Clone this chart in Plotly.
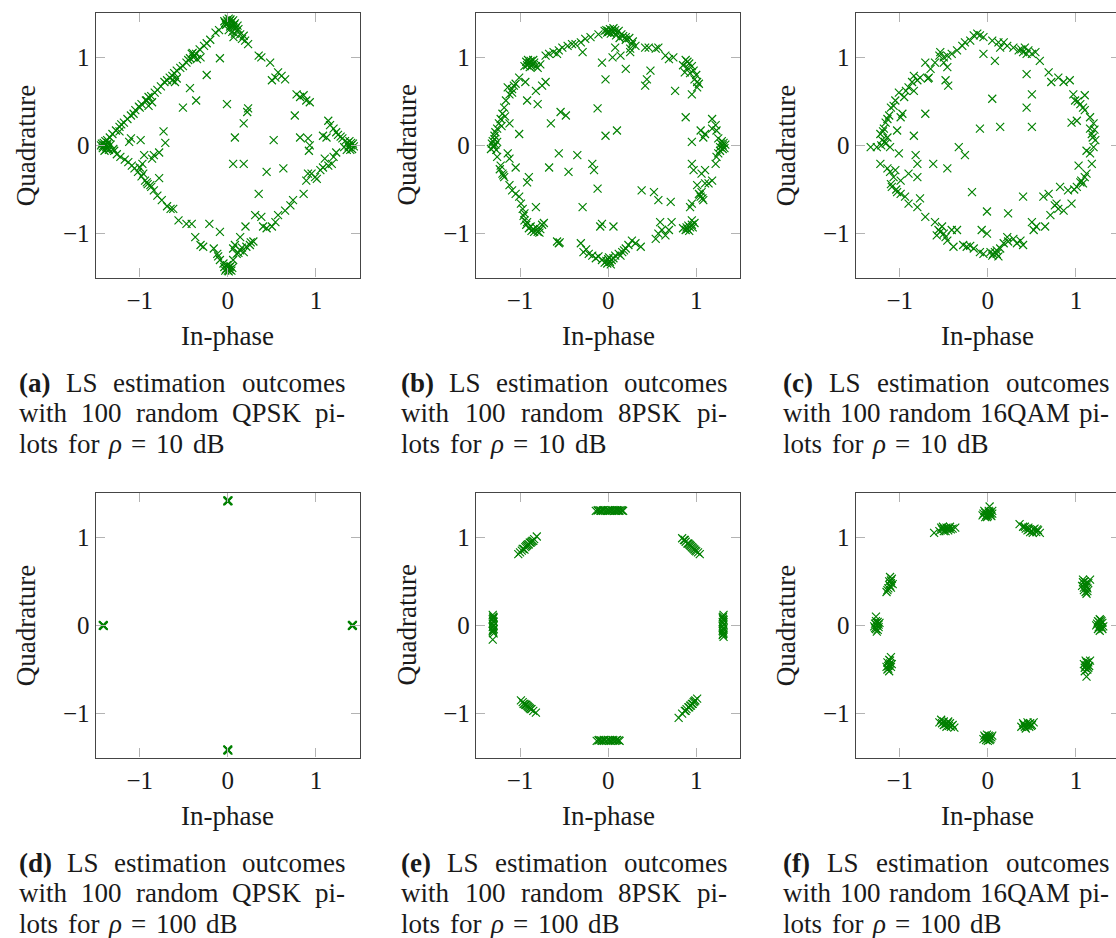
import plotly.graph_objects as go

# ---------------------------------------------------------------------------
# LS channel estimates (in-phase, quadrature) for each pilot scheme / SNR
# ---------------------------------------------------------------------------
qpsk_10db = [
    (-0.04, 1.41), (-0.01, 1.42), (0.02, 1.415), (0.045, 1.40), (0.08, 1.385), (-0.02, 1.37),
    (0.026, 1.35), (0.064, 1.34), (0.11, 1.36), (0.01, 1.31), (0.05, 1.29), (0.10, 1.30),
    (0.14, 1.26), (0.18, 1.245), (0.064, 1.23), (0.16, 1.21), (0.23, 1.15), (0.196, 1.19),
    (0.0, 1.40), (0.03, 1.38), (-0.03, 1.39), (0.06, 1.42), (0.01, 1.44), (0.04, 1.36),
    (0.07, 1.37), (0.09, 1.33), (-0.01, 1.38), (0.03, 1.43), (0.12, 1.32), (0.08, 1.27),
    (-0.10, 1.31), (-0.14, 1.28), (-0.20, 1.20), (-0.24, 1.16), (-0.27, 1.13), (-0.32, 1.09),
    (-0.36, 1.04), (-0.38, 1.02), (-0.40, 1.05), (-0.43, 0.99), (-0.45, 0.97), (-0.47, 0.94),
    (-0.51, 0.90), (-0.54, 0.88), (-0.58, 0.85), (-0.61, 0.82), (-0.63, 0.79), (-0.66, 0.77),
    (-0.69, 0.74), (-0.72, 0.72), (-0.76, 0.67), (-0.80, 0.63), (-0.83, 0.60), (-0.87, 0.56),
    (-0.90, 0.55), (-0.93, 0.51), (-0.98, 0.47), (-1.01, 0.44), (-1.05, 0.40), (-1.07, 0.36),
    (-1.10, 0.34), (-1.14, 0.30), (-1.18, 0.26), (-1.21, 0.24), (-1.23, 0.21), (-1.27, 0.17),
    (-1.31, 0.13), (-1.34, 0.09), (-1.37, 0.06),
    (-0.58, 0.76), (-0.63, 0.74), (-0.60, 0.72), (-0.41, 1.04), (-0.39, 1.00), (-0.35, 0.98),
    (-0.31, 1.00), (-0.92, 0.51), (-0.86, 0.49), (-0.90, 0.45), (-1.00, 0.43),
    (-0.09, 0.99), (-0.24, 0.80), (-0.43, 0.65), (-0.36, 0.51), (-0.51, 0.43), (-0.73, 0.16),
    (-0.71, 0.03), (-0.99, 0.06), (-1.12, 0.04), (-1.23, 0.16), (-1.10, 0.08),
    (-1.43, 0.02), (-1.40, 0.00), (-1.38, -0.02), (-1.42, -0.03), (-1.36, 0.03), (-1.39, 0.05),
    (-1.35, -0.05), (-1.33, 0.01), (-1.40, -0.06), (-1.30, -0.04), (-1.44, 0.00), (-1.37, 0.00),
    (-1.41, 0.03), (-1.38, -0.04), (-1.39, 0.01), (-1.42, -0.01), (-1.36, -0.03),
    (-1.29, -0.06), (-1.26, -0.10), (-1.22, -0.13), (-1.17, -0.16), (-1.13, -0.19), (-1.09, -0.23),
    (-1.06, -0.26), (-1.02, -0.30), (-0.98, -0.35), (-0.94, -0.40), (-0.91, -0.44), (-0.87, -0.47),
    (-0.84, -0.51), (-0.80, -0.57), (-0.75, -0.62), (-0.69, -0.69), (-0.65, -0.72), (-0.56, -0.85),
    (-0.47, -0.89), (-1.00, -0.25), (-0.96, -0.32), (-0.92, -0.42), (-0.88, -0.45),
    (-0.95, -0.11), (-0.84, -0.11), (-0.78, -0.08), (-0.86, -0.15), (-0.97, -0.21), (-0.78, -0.37),
    (-0.62, -0.72), (-0.41, -0.89), (-0.21, -0.89), (-0.09, -0.98), (-0.37, -1.04), (-0.31, -1.13),
    (-0.28, -1.15), (-0.16, -1.17), (-0.12, -1.23), (-0.11, -1.26), (-0.09, -1.30), (-0.05, -1.34),
    (-0.02, -1.40), (0.00, -1.42), (0.02, -1.41), (-0.04, -1.38), (0.03, -1.37), (0.01, -1.43),
    (-0.01, -1.36), (0.05, -1.39), (0.02, -1.38), (-0.03, -1.42), (0.00, -1.39), (0.04, -1.42),
    (0.06, -1.30), (0.10, -1.23), (0.14, -1.19), (0.18, -1.21), (0.21, -1.15), (0.25, -1.13),
    (0.29, -1.09), (0.20, -0.92), (0.14, -1.04), (0.06, -1.17), (0.08, -1.13), (0.31, -0.79),
    (0.38, -0.81), (0.40, -0.92), (0.44, -0.94), (0.50, -0.92), (0.54, -0.87), (0.57, -0.79),
    (0.65, -0.74), (0.71, -0.68), (0.74, -0.62), (0.86, -0.55), (0.89, -0.40), (0.99, -0.36),
    (1.01, -0.38), (1.05, -0.28), (1.08, -0.25), (1.14, -0.23), (1.18, -0.21), (1.10, -0.15),
    (1.20, -0.13), (1.23, -0.08), (0.12, -1.22), (0.16, -1.16), (0.26, -1.10),
    (0.06, -0.21), (0.18, -0.21), (0.35, -0.55), (0.44, -0.30), (0.63, -0.26), (0.52, 0.06),
    (0.08, 0.09), (-0.01, 0.47), (0.18, 0.25), (0.22, 0.38), (0.23, 0.42), (0.76, 0.34),
    (0.82, 0.09), (0.91, 0.08), (0.92, -0.06), (0.93, 0.00), (0.91, -0.32), (0.95, -0.32),
    (1.40, 0.00), (1.42, 0.02), (1.38, -0.02), (1.36, 0.03), (1.41, -0.04), (1.33, 0.05),
    (1.35, -0.05), (1.30, 0.08), (1.28, 0.10), (1.25, 0.12), (1.43, -0.01), (1.38, 0.05),
    (1.39, -0.05), (1.32, -0.02), (1.40, 0.03), (1.37, -0.01),
    (1.12, 0.09), (1.14, 0.28), (1.16, 0.23), (1.20, 0.19), (1.23, 0.15), (1.08, 0.11),
    (0.89, 0.51), (0.86, 0.57), (0.78, 0.58), (0.82, 0.55), (0.93, 0.49), (0.65, 0.75),
    (0.61, 0.79), (0.57, 0.83), (0.50, 0.74), (0.54, 0.77), (0.48, 0.94), (0.35, 1.02),
    (0.38, 1.00),
]

psk8_10db = [
    (0.00, 1.30), (0.02, 1.32), (0.05, 1.29), (0.08, 1.31), (-0.02, 1.31), (0.10, 1.28),
    (0.03, 1.27), (0.06, 1.33), (-0.04, 1.30), (0.12, 1.30), (0.15, 1.26), (0.13, 1.22),
    (0.20, 1.20), (0.24, 1.22), (0.27, 1.15), (0.25, 1.10), (0.28, 1.18), (0.01, 1.29),
    (0.04, 1.31), (-0.01, 1.28), (0.07, 1.28), (0.09, 1.25), (0.17, 1.24),
    (0.31, 1.13), (0.25, 1.06), (0.14, 1.02), (0.05, 1.00), (-0.07, 0.94), (-0.03, 0.75),
    (0.20, 0.87), (0.08, 1.11), (0.20, 1.23),
    (-0.11, 1.26), (-0.20, 1.23), (-0.26, 1.21), (-0.31, 1.17), (-0.37, 1.15), (-0.41, 1.15),
    (-0.46, 1.13), (-0.52, 1.11), (-0.56, 1.08), (-0.62, 1.06), (-0.67, 1.04), (-0.71, 1.02),
    (-0.29, 1.06), (-0.58, 1.04),
    (-0.93, 0.95), (-0.90, 0.93), (-0.88, 0.96), (-0.92, 0.91), (-0.86, 0.92), (-0.84, 0.94),
    (-0.95, 0.90), (-0.89, 0.89), (-0.82, 0.90), (-0.80, 0.88), (-0.77, 0.92), (-0.91, 0.97),
    (-0.87, 0.90), (-0.89, 0.94), (-0.85, 0.97),
    (-1.01, 0.77), (-1.05, 0.70), (-1.09, 0.64), (-1.12, 0.58), (-1.16, 0.51), (-1.18, 0.43),
    (-1.20, 0.36), (-1.22, 0.30), (-1.24, 0.25), (-1.26, 0.19), (-1.28, 0.15), (-1.29, 0.11),
    (-1.14, 0.66), (-1.09, 0.60), (-1.12, 0.25), (-1.01, 0.13), (-0.94, 0.72), (-0.92, 0.51),
    (-0.82, 0.62), (-0.80, 0.47), (-0.71, 0.72), (-0.75, 0.68), (-1.07, 0.68), (-1.17, 0.33),
    (-1.21, 0.22),
    (-1.32, 0.02), (-1.30, -0.02), (-1.28, 0.01), (-1.33, -0.04), (-1.31, 0.05), (-1.27, -0.05),
    (-1.29, 0.07), (-1.26, 0.04), (-1.30, 0.00),
    (-1.26, -0.13), (-1.22, -0.23), (-1.20, -0.32), (-1.18, -0.36), (-1.14, -0.09), (-1.12, -0.15),
    (-1.05, -0.25), (-1.12, -0.45), (-1.09, -0.51), (-1.05, -0.55), (-1.01, -0.58), (-0.99, -0.66),
    (-0.97, -0.72), (-0.95, -0.77), (-0.90, -0.36), (-0.92, -0.42), (-0.82, -0.70), (-1.23, -0.27),
    (-1.19, -0.34),
    (-0.95, -0.85), (-0.93, -0.90), (-0.90, -0.94), (-0.87, -0.97), (-0.85, -0.95), (-0.82, -0.93),
    (-0.88, -0.92), (-0.80, -0.98), (-0.77, -0.95), (-0.75, -0.90), (-0.73, -0.88), (-0.78, -0.99),
    (-0.96, -0.80), (-0.92, -0.87), (-0.84, -0.98),
    (-0.58, -1.09), (-0.56, -1.11), (-0.31, -1.11), (-0.28, -1.21), (-0.22, -1.23), (-0.18, -1.25),
    (-0.14, -1.28), (-0.11, -1.26), (-0.07, -1.30), (-0.25, -1.18), (-0.55, -1.10),
    (-0.02, -1.31), (0.00, -1.29), (0.02, -1.32), (0.04, -1.30), (-0.04, -1.33), (0.01, -1.27),
    (0.06, -1.28), (-0.01, -1.34), (0.03, -1.35),
    (0.08, -1.25), (0.12, -1.23), (0.16, -1.21), (0.20, -1.17), (0.23, -1.13), (0.27, -1.08),
    (0.31, -1.11), (0.37, -1.15), (-0.07, -0.89), (-0.09, -0.92), (0.06, -0.92), (0.54, -1.06),
    (0.57, -1.00), (0.61, -0.96), (0.65, -1.02), (0.69, -0.96), (0.59, -0.87), (0.72, -0.87),
    (0.18, -1.19), (0.14, -1.25),
    (0.90, -0.95), (0.93, -0.93), (0.95, -0.90), (0.88, -0.96), (0.85, -0.94), (0.92, -0.97),
    (0.96, -0.93), (0.98, -0.88), (0.95, -0.85), (0.91, -0.91), (0.89, -0.93),
    (0.93, -0.70), (0.95, -0.66), (1.03, -0.55), (1.05, -0.58), (1.06, -0.53), (1.08, -0.62),
    (1.10, -0.43), (1.14, -0.43), (1.18, -0.40), (1.01, -0.45), (0.95, -0.21), (0.97, -0.28),
    (1.06, -0.32), (1.10, -0.28), (1.22, -0.21), (1.23, -0.13), (1.25, -0.09), (1.27, -0.06),
    (1.04, -0.56), (1.07, -0.60),
    (1.28, 0.02), (1.30, 0.00), (1.32, -0.03), (1.29, 0.05), (1.27, -0.02), (1.31, 0.03),
    (1.25, 0.08), (1.33, 0.01), (1.30, -0.04),
    (1.18, 0.30), (1.22, 0.23), (1.23, 0.17), (1.18, 0.19), (1.10, 0.13), (1.05, 0.17),
    (1.08, 0.09), (0.95, 0.04), (0.88, 0.32), (0.95, 0.58), (1.01, 0.66), (1.03, 0.70),
    (0.88, 0.97), (0.92, 0.93), (0.95, 0.90), (0.90, 0.88), (0.85, 0.91), (0.97, 0.85),
    (1.00, 0.80), (0.93, 0.82), (0.98, 0.75), (0.87, 0.83), (1.01, 0.72), (0.90, 0.95),
    (0.65, 1.02), (0.57, 1.11), (0.54, 1.10), (0.46, 1.11), (0.42, 1.11), (0.69, 0.98),
    (0.74, 1.00), (0.48, 0.85), (0.44, 0.75), (0.42, 0.68), (0.76, 0.62),
    (-0.12, 0.42), (-0.03, 0.11), (0.10, 0.17), (-0.54, 0.38), (-0.48, 0.34), (-0.65, 0.25),
    (-0.56, -0.09), (-0.35, -0.11), (-0.67, -0.25), (-0.45, -0.30), (-0.18, -0.21), (-0.16, -0.28),
    (-0.12, -0.49), (-0.29, -0.70), (0.38, -0.51), (0.52, -0.53), (0.57, -0.62), (0.71, -0.64),
]

qam16_10db = [
    (-0.16, 1.25), (-0.09, 1.25), (-0.05, 1.23), (0.05, 1.19), (0.12, 1.17), (0.18, 1.17),
    (0.14, 1.11), (0.22, 1.13), (0.29, 1.11), (0.35, 1.08), (0.38, 1.09), (0.42, 1.11),
    (0.46, 1.08), (0.50, 1.04), (0.54, 1.06), (0.59, 0.96), (-0.05, 1.04), (0.08, 0.96),
    (-0.12, 1.27), (0.40, 1.06), (0.44, 1.04), (-0.20, 1.19),
    (-0.26, 1.17), (-0.29, 1.13), (-0.35, 1.08), (-0.41, 1.04), (-0.46, 1.02), (-0.50, 1.00),
    (-0.54, 1.06), (-0.50, 0.94), (-0.46, 0.89), (-0.60, 0.94), (-0.65, 0.87), (-0.71, 0.94),
    (-0.67, 0.77), (-0.77, 0.77), (-0.80, 0.74), (-0.86, 0.72), (-0.84, 0.79), (-0.90, 0.66),
    (-0.84, 0.62), (-0.95, 0.55), (-1.01, 0.60), (-1.05, 0.51), (-1.10, 0.43), (-1.14, 0.30),
    (-1.16, 0.26), (-0.97, 0.36), (-0.99, 0.32), (-0.48, 0.74), (-0.45, 0.68), (-0.71, 0.36),
    (-0.55, 1.02), (-0.68, 0.76), (-0.93, 0.62), (-1.07, 0.45), (-1.12, 0.34),
    (-1.18, 0.19), (-1.22, 0.13), (-1.14, 0.09), (-1.20, 0.06), (-1.16, 0.02), (-1.33, -0.02),
    (-1.26, -0.02), (-1.11, -0.02), (-1.03, 0.17), (-1.01, -0.09), (-0.84, 0.11), (-0.82, -0.11),
    (-0.80, -0.21), (-1.19, 0.16), (-1.17, 0.04), (-1.21, 0.00),
    (-1.22, -0.21), (-1.14, -0.26), (-1.11, -0.30), (-1.05, -0.28), (-1.07, -0.36), (-0.99, -0.40),
    (-0.90, -0.32), (-1.09, -0.47), (-1.03, -0.53), (-0.99, -0.55), (-0.94, -0.58), (-0.90, -0.66),
    (-0.80, -0.70), (-0.77, -0.60), (-0.71, -0.81), (-0.80, -0.36), (-1.10, -0.44), (-1.04, -0.50),
    (-0.60, -0.87), (-0.56, -0.96), (-0.50, -1.00), (-0.58, -1.02), (-0.46, -1.08), (-0.41, -0.96),
    (-0.39, -1.15), (-0.35, -0.96), (-0.52, -0.92), (-0.54, -0.98), (-0.48, -1.04),
    (-0.28, -1.13), (-0.24, -1.15), (-0.16, -1.17), (-0.09, -1.21), (-0.05, -1.23), (0.03, -1.21),
    (0.06, -1.23), (0.10, -1.19), (0.14, -1.17), (0.18, -1.11), (0.23, -1.09), (0.29, -1.06),
    (0.33, -1.11), (0.37, -1.08), (0.40, -1.13), (-0.07, -0.96), (-0.01, -1.00), (-0.01, -0.75),
    (0.23, -0.77), (0.22, -1.04), (0.10, -1.23), (0.05, -1.25), (0.12, -1.26), (0.08, -1.21),
    (-0.20, -1.14),
    (0.50, -0.87), (0.52, -0.96), (0.55, -0.92), (0.65, -0.92), (0.71, -0.79), (0.76, -0.68),
    (0.80, -0.72), (0.86, -0.74), (0.95, -0.66), (0.69, -0.55), (0.82, -0.47), (0.91, -0.51),
    (1.01, -0.47), (1.06, -0.40), (1.12, -0.32), (1.18, -0.21), (1.03, -0.23), (1.05, -0.42),
    (1.08, -0.43), (0.40, -0.58), (0.63, -0.58), (0.78, -0.66), (1.10, -0.36), (0.98, -0.50),
    (1.16, -0.09), (1.20, -0.02), (1.22, 0.06), (1.18, 0.13), (1.16, 0.19), (1.20, 0.25),
    (1.16, 0.32), (1.10, 0.40), (1.01, 0.28), (0.95, 0.26), (1.12, -0.06), (1.19, 0.09),
    (1.21, 0.18),
    (1.05, 0.47), (1.08, 0.43), (0.99, 0.51), (0.97, 0.58), (1.10, 0.57), (0.86, 0.72),
    (0.80, 0.77), (0.72, 0.72), (0.69, 0.83), (0.93, 0.74), (1.02, 0.50),
    (0.05, 0.53), (0.44, 0.43), (0.50, 0.58), (0.44, 0.81), (0.14, 0.21), (-0.09, 0.19),
    (0.50, 0.21), (-0.33, -0.02), (-0.26, -0.11), (-0.62, -0.21), (-0.46, -0.26), (-0.18, -0.53),
]

qpsk_100db = [
    (0.0, 1.414), (0.005, 1.41), (-0.005, 1.418), (0.003, 1.42), (-0.006, 1.408), (0.007, 1.416),
    (0.0, -1.414), (0.004, -1.41), (-0.004, -1.418), (-0.003, -1.408), (0.006, -1.42), (-0.007, -1.412),
    (1.414, 0.0), (1.41, 0.005), (1.418, -0.004), (1.412, -0.006), (1.42, 0.006), (1.407, -0.002),
    (-1.414, 0.0), (-1.41, 0.004), (-1.418, -0.005), (-1.416, 0.006), (-1.408, -0.006), (-1.42, 0.001),
]

psk8_100db = [
    (-0.14, 1.30), (-0.11, 1.31), (-0.08, 1.30), (-0.05, 1.31), (-0.03, 1.30), (0.00, 1.31),
    (0.02, 1.30), (0.05, 1.31), (0.07, 1.30), (0.10, 1.31), (0.12, 1.30), (0.15, 1.31),
    (0.17, 1.30), (-0.12, 1.305), (-0.06, 1.305), (0.01, 1.305), (0.08, 1.305), (0.13, 1.305),
    (-0.09, 1.305), (-0.01, 1.30), (0.04, 1.305), (0.11, 1.305), (0.16, 1.305),
    (-0.13, -1.31), (-0.10, -1.30), (-0.07, -1.31), (-0.05, -1.30), (-0.02, -1.31), (0.00, -1.30),
    (0.03, -1.31), (0.05, -1.30), (0.08, -1.31), (0.10, -1.30), (0.13, -1.31), (-0.11, -1.305),
    (-0.04, -1.305), (0.02, -1.305), (0.09, -1.305), (-0.08, -1.305), (0.06, -1.305),
    (0.12, -1.305),
    (-1.31, 0.12), (-1.30, 0.09), (-1.31, 0.07), (-1.30, 0.04), (-1.31, 0.02), (-1.30, 0.00),
    (-1.31, -0.02), (-1.30, -0.04), (-1.31, -0.06), (-1.30, -0.09), (-1.31, -0.16), (-1.305, 0.10),
    (-1.305, 0.05), (-1.305, -0.01), (-1.305, -0.05), (-1.305, 0.08), (-1.305, -0.07),
    (1.31, 0.12), (1.30, 0.09), (1.31, 0.06), (1.30, 0.04), (1.31, 0.01), (1.30, -0.01),
    (1.31, -0.03), (1.30, -0.06), (1.31, -0.09), (1.30, -0.11), (1.31, -0.13), (1.305, 0.10),
    (1.305, 0.03), (1.305, -0.04), (1.305, -0.10), (1.305, 0.07), (1.305, -0.07),
    (-1.02, 0.81), (-1.00, 0.83), (-0.98, 0.85), (-0.96, 0.87), (-0.94, 0.89), (-0.92, 0.91),
    (-0.90, 0.92), (-0.88, 0.94), (-0.86, 0.96), (-0.84, 0.98), (-0.81, 1.01), (-0.97, 0.87),
    (-0.93, 0.90), (-0.89, 0.94), (-0.85, 0.96), (-0.95, 0.86), (-0.91, 0.92), (-0.87, 0.95),
    (0.84, 0.99), (0.86, 0.97), (0.88, 0.95), (0.90, 0.93), (0.92, 0.92), (0.94, 0.90),
    (0.96, 0.88), (0.98, 0.86), (1.00, 0.84), (1.02, 0.83), (1.04, 0.81), (0.87, 0.97),
    (0.91, 0.93), (0.95, 0.89), (0.99, 0.85), (0.93, 0.91), (0.97, 0.87),
    (-0.99, -0.85), (-0.97, -0.87), (-0.95, -0.89), (-0.93, -0.90), (-0.91, -0.92), (-0.89, -0.94),
    (-0.87, -0.95), (-0.85, -0.97), (-0.82, -0.99), (-0.96, -0.89), (-0.92, -0.91), (-0.88, -0.95),
    (-0.94, -0.90), (-0.90, -0.93),
    (0.80, -1.05), (0.84, -1.00), (0.87, -0.97), (0.89, -0.95), (0.91, -0.93), (0.93, -0.91),
    (0.95, -0.89), (0.97, -0.87), (0.99, -0.85), (1.01, -0.83), (0.88, -0.97), (0.92, -0.93),
    (0.96, -0.89), (0.94, -0.91), (0.98, -0.86),
]

qam16_100db = [
    (-0.03, 1.28), (0.00, 1.26), (0.02, 1.29), (-0.02, 1.25), (0.03, 1.27), (-0.05, 1.27),
    (0.01, 1.30), (0.04, 1.24), (-0.01, 1.23), (0.02, 1.35), (0.05, 1.30), (-0.04, 1.30),
    (0.00, 1.24), (-0.03, 1.23), (0.03, 1.25), (0.01, 1.28), (-0.06, 1.25), (0.05, 1.27),
    (0.36, 1.15), (0.40, 1.12), (0.43, 1.10), (0.45, 1.08), (0.47, 1.09), (0.50, 1.07),
    (0.52, 1.09), (0.55, 1.06), (0.57, 1.08), (0.59, 1.05), (0.48, 1.06), (0.53, 1.10),
    (0.42, 1.12), (0.46, 1.11), (0.51, 1.05), (0.56, 1.09),
    (-0.61, 1.05), (-0.55, 1.07), (-0.52, 1.09), (-0.50, 1.10), (-0.47, 1.11), (-0.45, 1.08),
    (-0.43, 1.12), (-0.40, 1.10), (-0.37, 1.11), (-0.48, 1.07), (-0.53, 1.11), (-0.42, 1.09),
    (-0.50, 1.07), (-0.46, 1.10), (-0.44, 1.10), (-0.51, 1.12),
    (1.08, 0.52), (1.10, 0.47), (1.12, 0.44), (1.09, 0.40), (1.11, 0.38), (1.14, 0.48),
    (1.16, 0.52), (1.07, 0.45), (1.13, 0.42), (1.10, 0.50), (1.12, 0.36), (1.09, 0.43),
    (1.11, 0.46), (1.13, 0.39), (1.08, 0.49),
    (1.24, 0.02), (1.27, 0.00), (1.29, -0.02), (1.26, 0.04), (1.30, 0.03), (1.25, -0.04),
    (1.28, 0.06), (1.31, -0.01), (1.27, -0.06), (1.23, 0.00), (1.29, 0.05), (1.26, -0.02),
    (1.28, 0.02), (1.25, 0.05), (1.30, -0.04), (1.27, 0.07),
    (1.10, -0.48), (1.12, -0.45), (1.14, -0.42), (1.11, -0.40), (1.15, -0.46), (1.09, -0.44),
    (1.13, -0.50), (1.12, -0.58), (1.16, -0.40), (1.10, -0.52), (1.12, -0.42), (1.14, -0.48),
    (1.11, -0.46),
    (0.38, -1.15), (0.41, -1.13), (0.44, -1.14), (0.46, -1.12), (0.48, -1.11), (0.50, -1.13),
    (0.43, -1.17), (0.47, -1.15), (0.52, -1.10), (0.40, -1.11), (0.45, -1.10), (0.49, -1.14),
    (0.42, -1.15),
    (-0.03, -1.27), (0.00, -1.28), (0.02, -1.26), (-0.02, -1.30), (0.03, -1.29), (0.01, -1.25),
    (-0.04, -1.25), (0.04, -1.27), (0.00, -1.31), (-0.01, -1.24), (-0.02, -1.27), (0.02, -1.30),
    (0.05, -1.25), (-0.05, -1.29),
    (-0.55, -1.10), (-0.52, -1.11), (-0.50, -1.09), (-0.48, -1.12), (-0.46, -1.11), (-0.44, -1.14),
    (-0.42, -1.15), (-0.40, -1.13), (-0.53, -1.07), (-0.47, -1.15), (-0.38, -1.16), (-0.50, -1.13),
    (-0.45, -1.09), (-0.43, -1.11),
    (-1.14, -0.42), (-1.12, -0.45), (-1.10, -0.47), (-1.13, -0.49), (-1.11, -0.40), (-1.15, -0.47),
    (-1.09, -0.44), (-1.12, -0.52), (-1.10, -0.36), (-1.14, -0.50), (-1.11, -0.43), (-1.13, -0.46),
    (-1.12, -0.39),
    (-1.28, 0.02), (-1.26, 0.00), (-1.24, -0.02), (-1.27, -0.04), (-1.25, 0.04), (-1.29, -0.01),
    (-1.23, 0.03), (-1.26, -0.07), (-1.27, 0.10), (-1.25, -0.05), (-1.26, 0.03), (-1.28, -0.03),
    (-1.24, 0.01), (-1.27, 0.05),
    (-1.13, 0.42), (-1.11, 0.45), (-1.10, 0.48), (-1.12, 0.50), (-1.09, 0.53), (-1.14, 0.40),
    (-1.08, 0.47), (-1.11, 0.55), (-1.15, 0.38), (-1.10, 0.43), (-1.12, 0.46), (-1.10, 0.51),
]

# Axis ticks
tick_vals = [-1, 0, 1]
tick_text = ["\u22121", "0", "1"]
axis_range = [-1.5, 1.5]

# Sub-figure captions: (tag, modulation, SNR in dB)
captions = [
    ("(a)", "QPSK", "10"), ("(b)", "8PSK", "10"), ("(c)", "16QAM", "10"),
    ("(d)", "QPSK", "100"), ("(e)", "8PSK", "100"), ("(f)", "16QAM", "100"),
]
series = [qpsk_10db, psk8_10db, qam16_10db, qpsk_100db, psk8_100db, qam16_100db]

# ---------------------------------------------------------------------------
# Page geometry (pixels); the third column runs slightly past the page edge
# ---------------------------------------------------------------------------
FIG_W, FIG_H = 1125, 938
COL_LEFT = [95.7, 476.0, 855.7]
ROW_TOP = [13.3, 493.3]
SIDE = 264.3
CAPTION_LEFT = [17, 399, 781]
CAPTION_WIDTH = 326
LINE_GAP = 30.5
FONT = "Liberation Serif"
TEXT_COLOR = "#1a1a1a"
GREEN = "#008000"
CAPTION_SIZE = 27
LABEL_SIZE = 27
TICK_SIZE = 25

# Advance widths (em) of the serif face, used to justify the caption lines
ADVANCE = {
    "a": .444, "b": .5, "c": .444, "d": .5, "e": .444, "f": .333, "h": .5, "i": .278,
    "l": .278, "m": .778, "n": .5, "o": .5, "p": .5, "r": .333, "s": .389, "t": .278,
    "u": .5, "w": .722, "A": .722, "B": .667, "K": .722, "L": .611, "M": .889,
    "P": .556, "Q": .722, "S": .556, "(": .333, ")": .333, "-": .333, "=": .564,
    "\u03c1": .5,
}
ADVANCE_BOLD = {"a": .5, "b": .556, "c": .444, "d": .556, "e": .444, "f": .333,
                "(": .333, ")": .333}


def word_width(word, bold=False):
    table = ADVANCE_BOLD if bold else ADVANCE
    return CAPTION_SIZE * sum(table.get(ch, 0.5) for ch in word)


def px(x):
    return x / FIG_W


def py(y):
    return 1 - y / FIG_H


fig = go.Figure()
annotations = []


def text_note(text, x, y, xanchor="center", angle=0, size=LABEL_SIZE):
    annotations.append(dict(
        text=text, x=px(x), y=py(y), xref="paper", yref="paper",
        xanchor=xanchor, yanchor="middle", textangle=angle, showarrow=False,
        font=dict(family=FONT, size=size, color=TEXT_COLOR)))


def caption(tag, mod, snr, left, y0):
    # (markup, plain text, bold?) for each word
    line1 = [(f"<b>{tag}</b>", tag, True), ("LS", "LS", False),
             ("estimation", "estimation", False), ("outcomes", "outcomes", False)]
    line2 = [("with", "with", False), ("100", "100", False), ("random", "random", False),
             (mod, mod, False), ("pi-", "pi-", False)]
    line3 = [("lots", "lots", False), ("for", "for", False),
             ("<i>\u03c1</i>", "\u03c1", False), ("=", "=", False),
             (snr, snr, False), ("dB", "dB", False)]
    # first two lines are justified to the column width
    for j, words in enumerate([line1, line2]):
        widths = [word_width(w, b) for _, w, b in words]
        gap = (CAPTION_WIDTH - sum(widths)) / (len(words) - 1)
        x = left
        for (markup, _, _), w in zip(words, widths):
            text_note(markup, x, y0 + LINE_GAP * j, xanchor="left", size=CAPTION_SIZE)
            x += w + gap
    # last line set with natural spacing
    x = left
    for markup, w, b in line3:
        text_note(markup, x, y0 + 2 * LINE_GAP, xanchor="left", size=CAPTION_SIZE)
        x += word_width(w, b) + 9.5


for k, pts in enumerate(series):
    row, col = divmod(k, 3)
    left, top = COL_LEFT[col], ROW_TOP[row]
    xa = "x" if k == 0 else f"x{k + 1}"
    ya = "y" if k == 0 else f"y{k + 1}"
    fig.add_trace(go.Scatter(
        x=[p[0] for p in pts], y=[p[1] for p in pts],
        mode="markers", xaxis=xa, yaxis=ya, showlegend=False,
        marker=dict(symbol="x-thin", size=8, color=GREEN,
                    line=dict(color=GREEN, width=1.15)),
        cliponaxis=False,
    ))
    axis_common = dict(
        range=axis_range, tickvals=tick_vals, ticktext=tick_text,
        ticks="inside", ticklen=9, tickwidth=1.4, tickcolor="#b3b3b3",
        showline=True, linecolor="#454545", linewidth=1.3, mirror="ticks",
        showgrid=False, zeroline=False,
        tickfont=dict(family=FONT, size=TICK_SIZE, color=TEXT_COLOR),
    )
    xkey = "xaxis" if k == 0 else f"xaxis{k + 1}"
    ykey = "yaxis" if k == 0 else f"yaxis{k + 1}"
    fig.layout[xkey] = dict(axis_common, domain=[px(left), px(left + SIDE)], anchor=ya)
    fig.layout[ykey] = dict(axis_common, domain=[py(top + SIDE), py(top)], anchor=xa)

    # axis titles
    text_note("In-phase", left + SIDE / 2, top + SIDE + 58)
    text_note("Quadrature", left - 69, top + SIDE / 2, angle=-90)

    caption(*captions[k], CAPTION_LEFT[col], top + SIDE + 105)

fig.update_layout(
    width=FIG_W, height=FIG_H,
    margin=dict(l=0, r=0, t=0, b=0),
    paper_bgcolor="white", plot_bgcolor="white",
    annotations=annotations,
    font=dict(family=FONT),
)

fig.write_html(
    "out.html",
    post_script="document.body.style.margin='0';document.body.style.overflow='hidden';",
)
